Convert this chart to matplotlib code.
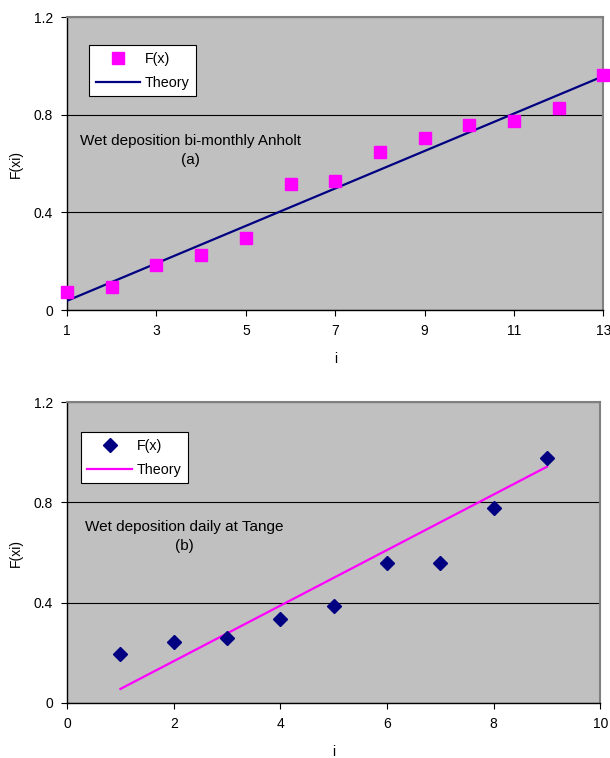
import matplotlib
matplotlib.use("Agg")
import matplotlib.pyplot as plt

plt.rcParams['font.family'] = ['Liberation Sans', 'DejaVu Sans']
plt.rcParams['font.size'] = 10

# panel (a): bi-monthly Anholt
i_a = [1, 2, 3, 4, 5, 6, 7, 8, 9, 10, 11, 12, 13]
fx_a = [0.072, 0.093, 0.186, 0.226, 0.294, 0.516, 0.528, 0.646, 0.705,
        0.759, 0.773, 0.829, 0.963]
theory_i_a = [1, 13]
theory_a = [0.038, 0.958]

# panel (b): daily Tange
i_b = [1, 2, 3, 4, 5, 6, 7, 8, 9]
fx_b = [0.196, 0.245, 0.259, 0.336, 0.385, 0.558, 0.558, 0.777, 0.978]
theory_i_b = [1, 9]
theory_b = [0.056, 0.942]

BG = '#c0c0c0'
MAGENTA = '#ff00ff'
NAVY = '#000080'


def style_axes(ax, xlim, xticks):
    ax.set_facecolor(BG)
    ax.set_xlim(*xlim)
    ax.set_ylim(0, 1.2)
    ax.set_xticks(xticks)
    ax.set_yticks([0, 0.4, 0.8, 1.2])
    ax.set_yticklabels(['0', '0.4', '0.8', '1.2'])
    ax.yaxis.grid(True, color='black', linewidth=0.8)
    ax.set_axisbelow(True)
    for s in ['top', 'right']:
        ax.spines[s].set_color('#808080')
        ax.spines[s].set_linewidth(1.5)
    for s in ['left', 'bottom']:
        ax.spines[s].set_color('black')
        ax.spines[s].set_linewidth(1.0)
    ax.tick_params(direction='out', length=4, width=0.8, pad=6, labelsize=10)
    ax.set_xlabel('i', labelpad=10)
    ax.set_ylabel('F(xi)', labelpad=8)


def add_legend(ax, anchor):
    leg = ax.legend(loc='upper left', bbox_to_anchor=anchor, borderaxespad=0,
                    frameon=True, fancybox=False, edgecolor='black', framealpha=1,
                    handlelength=3.1, handletextpad=0.35, borderpad=0.45,
                    labelspacing=0.7, fontsize=10.3)
    leg.get_frame().set_linewidth(0.8)
    return leg


fig = plt.figure(figsize=(6.1, 7.58), dpi=100)

ax1 = fig.add_axes([0.110, 0.591, 0.879, 0.3865])
ax1.plot(i_a, fx_a, linestyle='none', marker='s', markersize=9,
         color=MAGENTA, label='F(x)', clip_on=False, zorder=4)
ax1.plot(theory_i_a, theory_a, color=NAVY, linewidth=1.6, label='Theory', zorder=3)
style_axes(ax1, (1, 13), [1, 3, 5, 7, 9, 11, 13])
ax1.text(0.2295, 0.544, 'Wet deposition bi-monthly Anholt\n(a)', transform=ax1.transAxes,
         ha='center', va='center', linespacing=1.45, fontsize=11)
add_legend(ax1, (0.041, 0.904))

ax2 = fig.add_axes([0.110, 0.0726, 0.874, 0.397])
ax2.plot(i_b, fx_b, linestyle='none', marker='D', markersize=7,
         color=NAVY, label='F(x)', zorder=4)
ax2.plot(theory_i_b, theory_b, color=MAGENTA, linewidth=1.6, label='Theory', zorder=3)
style_axes(ax2, (0, 10), [0, 2, 4, 6, 8, 10])
ax2.text(0.2204, 0.553, 'Wet deposition daily at Tange\n(b)', transform=ax2.transAxes,
         ha='center', va='center', linespacing=1.45, fontsize=11)
add_legend(ax2, (0.026, 0.900))

fig.savefig('out.png', dpi=100)
